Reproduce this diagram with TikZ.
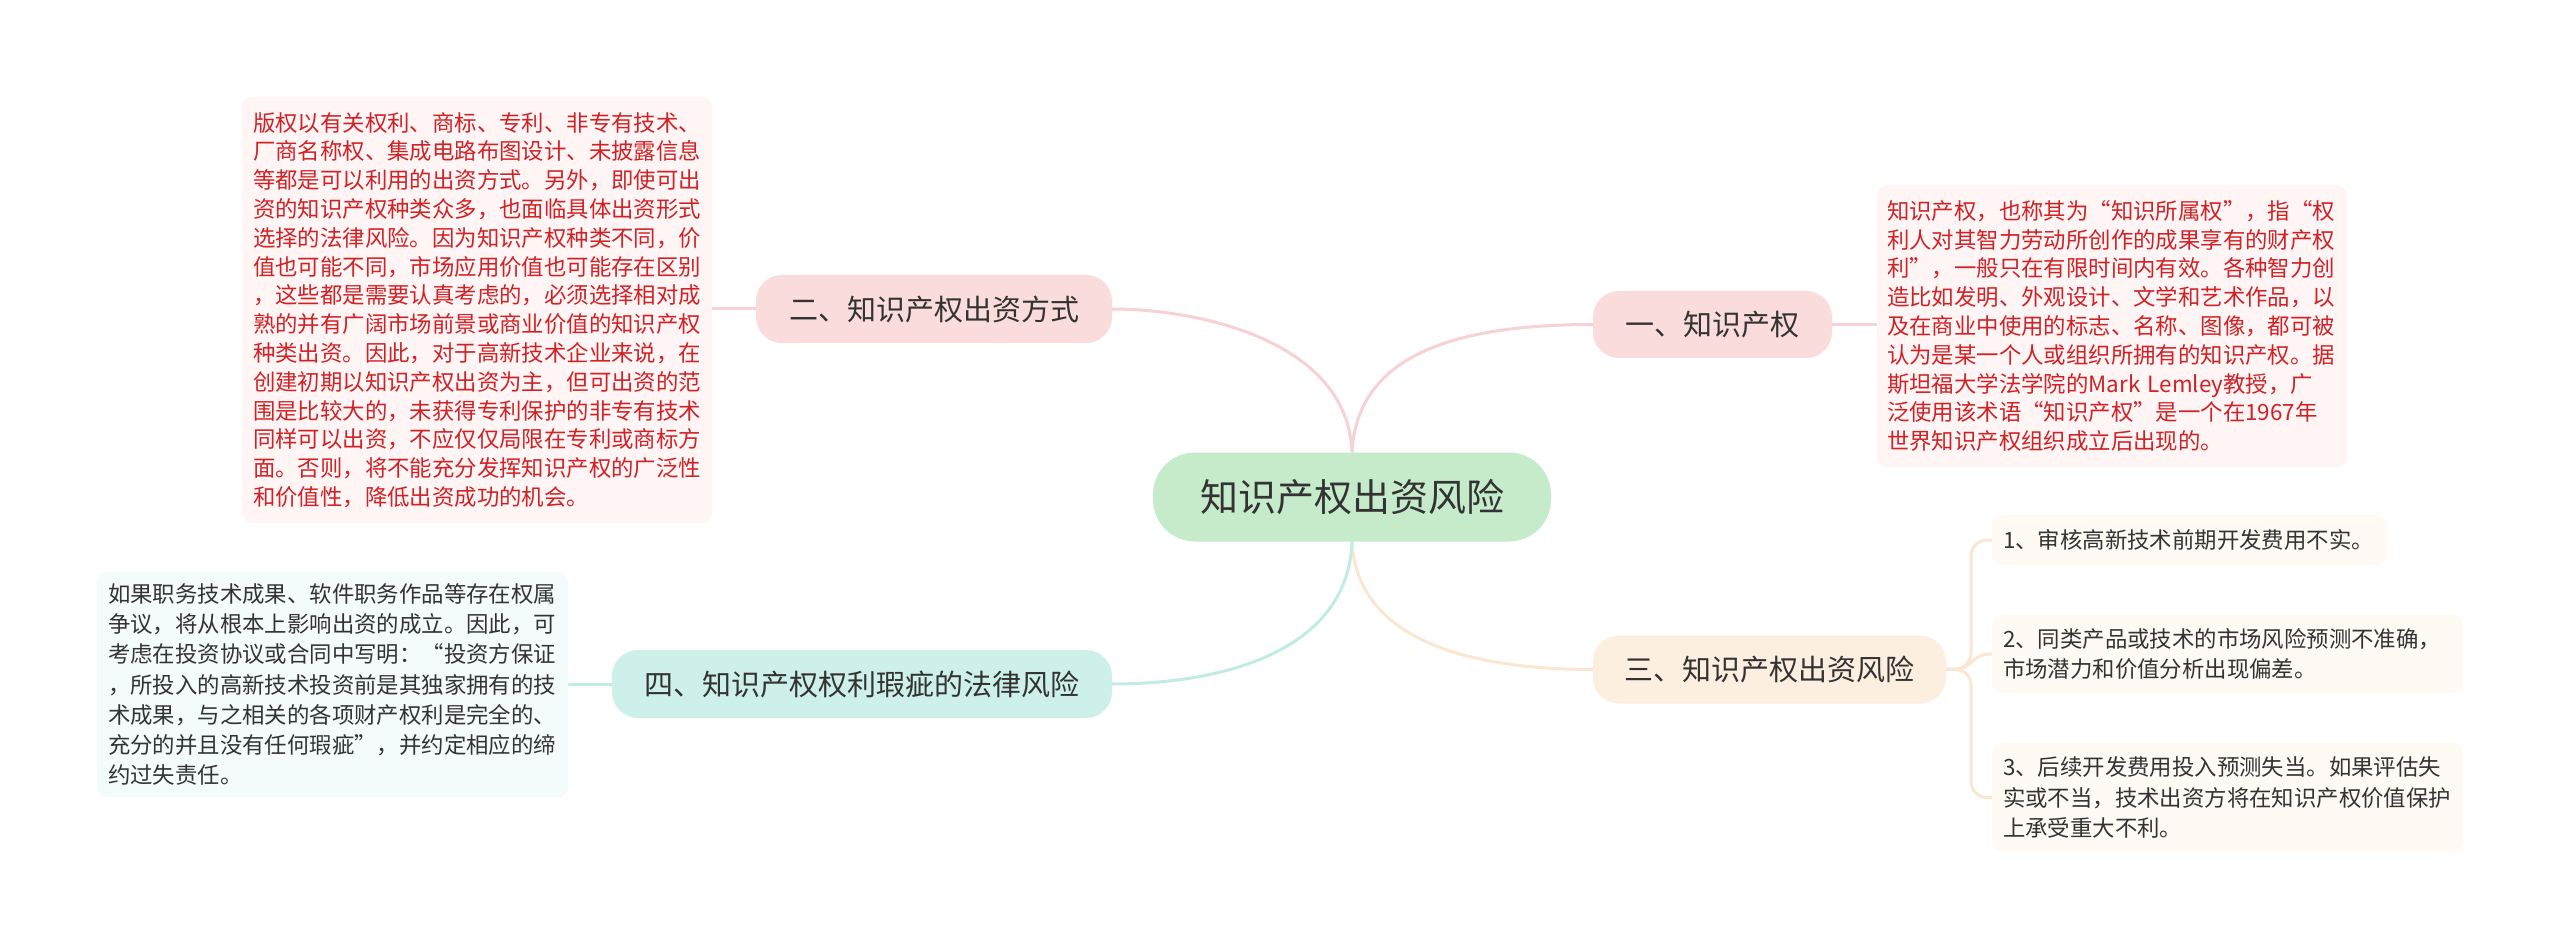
\documentclass[tikz,border=0pt]{standalone}
\usepackage{fontspec}
\usetikzlibrary{backgrounds}
\newfontfamily\cjk{Noto Sans CJK SC}
\definecolor{rootfill}{HTML}{C6EBCB}
\definecolor{pinkfill}{HTML}{FADCDC}
\definecolor{peachfill}{HTML}{FDEFDF}
\definecolor{tealfill}{HTML}{CDF0EA}
\definecolor{pinkline}{HTML}{F6D2D4}
\definecolor{tealline}{HTML}{C3EBE5}
\definecolor{peachline}{HTML}{FAE7D2}
\definecolor{pinkbox}{HTML}{FFF5F5}
\definecolor{tealbox}{HTML}{F4FBFB}
\definecolor{peachbox}{HTML}{FFFAF3}
\definecolor{redtext}{HTML}{D02226}
\definecolor{darktext}{HTML}{333333}
\begin{document}
\begin{tikzpicture}[x=1pt,y=-1pt,
  root/.style={fill=rootfill, rounded corners=42pt, minimum width=398pt, minimum height=89pt, inner sep=0pt, text=darktext, font=\cjk\fontsize{38}{46}\selectfont},
  branch/.style={rounded corners=26pt, minimum height=68pt, inner sep=0pt, text=darktext, font=\cjk\fontsize{29}{35}\selectfont},
  redbox/.style={fill=pinkbox, rounded corners=10pt, inner sep=0pt, align=left, text=redtext, font=\cjk\fontsize{22.4}{28.8}\selectfont},
  graybox/.style={rounded corners=10pt, inner sep=0pt, align=left, text=darktext, font=\cjk\fontsize{22.4}{30.2}\selectfont},
  link/.style={line width=3pt}]
\begin{scope}[on background layer]
\fill[white] (0,0) rectangle (2560,949);
\end{scope}
\useasboundingbox (0,0) rectangle (2560,949);

\coordinate (bend) at (1971,669);
\node[root] (root) at (1352,497) {知识产权出资风险};
\node[branch, fill=pinkfill, minimum width=356pt] (n2) at (934,309) {二、知识产权出资方式};
\node[branch, fill=pinkfill, minimum width=239pt, minimum height=67pt] (n1) at (1712.5,324.5) {一、知识产权};
\node[branch, fill=peachfill, minimum width=353pt] (n3) at (1769.5,669.5) {三、知识产权出资风险};
\node[branch, fill=tealfill, minimum width=500pt] (n4) at (862,684) {四、知识产权权利瑕疵的法律风险};

\node[redbox, minimum width=470pt, minimum height=426pt, text width=448pt] (d2) at (477,310) {版权以有关权利、商标、专利、非专有技术、\\厂商名称权、集成电路布图设计、未披露信息\\等都是可以利用的出资方式。另外，即使可出\\资的知识产权种类众多，也面临具体出资形式\\选择的法律风险。因为知识产权种类不同，价\\值也可能不同，市场应用价值也可能存在区别\\，这些都是需要认真考虑的，必须选择相对成\\熟的并有广阔市场前景或商业价值的知识产权\\种类出资。因此，对于高新技术企业来说，在\\创建初期以知识产权出资为主，但可出资的范\\围是比较大的，未获得专利保护的非专有技术\\同样可以出资，不应仅仅局限在专利或商标方\\面。否则，将不能充分发挥知识产权的广泛性\\和价值性，降低出资成功的机会。};

\node[redbox, minimum width=470pt, minimum height=282pt, text width=450pt] (d1) at (2112,326) {知识产权，也称其为“知识所属权”，指“权\\利人对其智力劳动所创作的成果享有的财产权\\利”，一般只在有限时间内有效。各种智力创\\造比如发明、外观设计、文学和艺术作品，以\\及在商业中使用的标志、名称、图像，都可被\\认为是某一个人或组织所拥有的知识产权。据\\斯坦福大学法学院的Mark Lemley教授，广\\泛使用该术语“知识产权”是一个在1967年\\世界知识产权组织成立后出现的。};

\node[graybox, fill=tealbox, minimum width=471pt, minimum height=225pt, text width=449pt] (d4) at (332.5,684.5) {如果职务技术成果、软件职务作品等存在权属\\争议，将从根本上影响出资的成立。因此，可\\考虑在投资协议或合同中写明：“投资方保证\\，所投入的高新技术投资前是其独家拥有的技\\术成果，与之相关的各项财产权利是完全的、\\充分的并且没有任何瑕疵”，并约定相应的缔\\约过失责任。};

\node[graybox, fill=peachbox, minimum width=395pt, minimum height=50pt, text width=373pt] (i1) at (2189.5,540) {1、审核高新技术前期开发费用不实。};
\node[graybox, fill=peachbox, minimum width=471pt, minimum height=78pt, text width=449pt] (i2) at (2227.5,654) {2、同类产品或技术的市场风险预测不准确，\\市场潜力和价值分析出现偏差。};
\node[graybox, fill=peachbox, minimum width=471pt, minimum height=109pt, text width=449pt] (i3) at (2227.5,797.5) {3、后续开发费用投入预测失当。如果评估失\\实或不当，技术出资方将在知识产权价值保护\\上承受重大不利。};

\begin{scope}[on background layer]
\draw[link, pinkline] (root.north) .. controls +(5,-95) and +(-143,0) .. (n1.west);
\draw[link, pinkline] (root.north) .. controls +(-4,-110) and +(90,0) .. (n2.east);
\draw[link, peachline] (root.south) .. controls +(5,100) and +(-120,0) .. (n3.west);
\draw[link, tealline] (root.south) .. controls +(-4,110) and +(110,0) .. (n4.east);
\draw[link, pinkline] (n2.west) -- (d2.east |- n2.west);
\draw[link, pinkline] (n1.east) -- (d1.west |- n1.east);
\draw[link, tealline] (n4.west) -- (d4.east |- n4.west);
\draw[link, peachline, rounded corners=16pt] (n3.east) -- (bend) -- (bend |- i1.west) -- (i1.west);
\draw[link, peachline] (n3.east) -- (1958,669) .. controls (1972,669) and (1970,654) .. (i2.west);
\draw[link, peachline, rounded corners=16pt] (n3.east) -- (bend) -- (bend |- i3.west) -- (i3.west);
\end{scope}
\end{tikzpicture}
\end{document}
